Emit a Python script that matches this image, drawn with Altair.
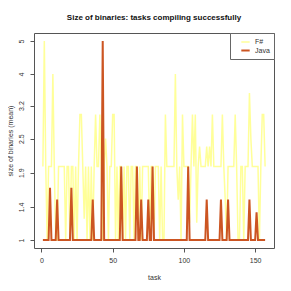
import altair as alt
import pandas as pd

tasks = list(range(1, 158))

fsharp = [
    2, 5, 2, 1, 2, 2, 2, 4, 2, 1,          # 1-10
    1, 2, 2, 2, 2, 2, 1, 2, 2, 1,          # 11-20
    2, 2, 1, 2, 1, 2, 3, 3, 2, 1.25,       # 21-30
    2, 1, 2, 1, 2, 1, 2, 3, 2, 2,          # 31-40
    3, 2, 1, 2, 2.5, 2, 1, 2, 2, 3,        # 41-50
    3, 1, 2, 1, 2, 2, 1, 2, 1, 2,          # 51-60
    2, 1, 2, 2, 1, 2, 2, 1, 2, 1,          # 61-70
    2, 2, 2, 2, 2, 1, 2, 2, 1, 2,          # 71-80
    2, 2, 1, 2, 1, 1, 3, 2, 2, 2,          # 81-90
    2, 2, 2, 4, 2, 1.5, 2, 1, 3, 2,        # 91-100
    2, 2, 2, 1.2, 2, 3, 2, 3, 1.2, 2,      # 101-110
    2.35, 2, 2, 2, 2, 2.35, 2, 2.35, 2, 3,  # 111-120
    2, 2, 2, 2, 2, 2, 3, 2, 1.5, 1,        # 121-130
    2, 2, 2, 2, 2, 3, 2, 1, 1, 2,          # 131-140
    2, 1, 2, 2, 2, 3.5, 2.5, 2, 2, 2,      # 141-150
    2, 2, 1, 2, 3, 3, 2,                   # 151-157
]

java = [1] * 157
java_peaks = {6: 1.67, 11: 1.5, 21: 1.67, 36: 1.5, 43: 5, 56: 2, 67: 2, 70: 1.5,
              75: 1.5, 78: 2, 103: 2, 116: 1.5, 126: 1.5, 131: 1.5, 146: 1.5, 151: 1.33}
for t, v in java_peaks.items():
    java[t - 1] = v

languages = ["F#", "Java"]
colors = ["#FFFF99", "#CC5522"]
y_ticks = [1, 1.4, 1.9, 2.5, 3.2, 4, 5]
x_ticks = [0, 50, 100, 150]

df = pd.concat([
    pd.DataFrame({"task": tasks, "size": fsharp, "language": "F#", "order": 0}),
    pd.DataFrame({"task": tasks, "size": java, "language": "Java", "order": 1}),
])

FONT = "Liberation Sans"

chart = alt.Chart(df).mark_line(strokeJoin="miter").encode(
    x=alt.X("task:Q",
            scale=alt.Scale(domain=[-5.24, 163.24], nice=False, zero=False),
            axis=alt.Axis(values=x_ticks, title="task", grid=False, domain=False,
                          tickSize=4, tickColor="#555", labelColor="#333",
                          labelFontSize=7, labelFont=FONT, labelPadding=4,
                          titleFontSize=7, titleFont=FONT, titleFontWeight="normal",
                          titleColor="#333", titleX=120, titleY=29,
                          titleBaseline="middle", titleAlign="center")),
    y=alt.Y("size:Q",
            scale=alt.Scale(type="symlog", constant=1, domain=[0.914, 5.27],
                            nice=False, zero=False),
            axis=alt.Axis(values=y_ticks, format="~g", title="size of binaries (mean)",
                          grid=False, domain=False, tickSize=4, tickColor="#555",
                          labelColor="#333", labelFontSize=7, labelFont=FONT,
                          labelAngle=270, labelAlign="center", labelBaseline="bottom",
                          labelPadding=6,
                          titleFontSize=7, titleFont=FONT, titleFontWeight="normal",
                          titleColor="#333", titleX=-24, titleY=107.5,
                          titleBaseline="middle", titleAlign="center", titleAngle=270)),
    color=alt.Color("language:N",
                    scale=alt.Scale(domain=languages, range=colors),
                    legend=alt.Legend(title=None, orient="top-right", offset=0,
                                      padding=4, symbolOffset=6, labelOffset=4,
                                      symbolType="stroke", symbolSize=70,
                                      symbolStrokeWidth=1.8, labelFontSize=7,
                                      labelFont=FONT, labelColor="#333",
                                      rowPadding=0, strokeColor="#666",
                                      fillColor="white", cornerRadius=0)),
    strokeWidth=alt.StrokeWidth("language:N",
                                scale=alt.Scale(domain=languages, range=[1.5, 2]),
                                legend=None),
    order=alt.Order("order:Q"),
    detail="language:N",
).properties(
    width=240,
    height=215,
    title=alt.TitleParams("Size of binaries: tasks compiling successfully",
                          fontSize=8, font=FONT, fontWeight="bold", anchor="middle",
                          baseline="alphabetic", offset=5, color="#111"),
    padding={"left": 26, "top": 25, "right": 9, "bottom": 40},
    autosize=alt.AutoSizeParams(type="none"),
).configure_view(stroke="#555", strokeWidth=1)

chart.save("out.html", embed_options={"renderer": "svg", "actions": False})
